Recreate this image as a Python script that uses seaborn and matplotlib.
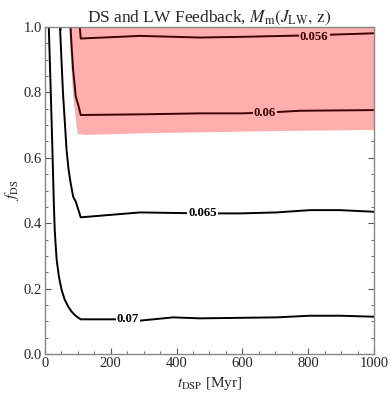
import pandas as pd
import matplotlib
matplotlib.use('Agg')
import matplotlib.pyplot as plt
import seaborn as sns

# contour levels of M_m and their polylines
levels = ['0.056', '0.06', '0.065', '0.07']

t_056 = [106, 109, 289, 471, 593, 818, 1000]
f_056 = [1.0, 0.965, 0.973, 0.968, 0.970, 0.975, 0.981]

t_060 = [78, 82, 86, 94, 102, 109, 289, 471, 593, 669, 775, 1000]
f_060 = [1.0, 0.93, 0.868, 0.787, 0.76, 0.731, 0.733, 0.736, 0.736, 0.738, 0.744, 0.746]

t_065 = [46, 55, 66, 72, 78, 86, 94, 109, 289, 480, 593, 704, 805, 897, 1000]
f_065 = [1.0, 0.80, 0.624, 0.565, 0.525, 0.481, 0.466, 0.418, 0.433, 0.430, 0.430,
         0.433, 0.440, 0.440, 0.435]

t_070 = [12, 18, 23, 27, 30, 33, 36, 43, 51, 60, 71, 81, 91, 100, 109, 252, 289,
         390, 471, 704, 805, 897, 1000]
f_070 = [1.0, 0.80, 0.624, 0.47, 0.38, 0.33, 0.287, 0.235, 0.196, 0.167, 0.145,
         0.130, 0.119, 0.112, 0.106, 0.106, 0.102, 0.112, 0.109, 0.112, 0.117,
         0.117, 0.114]

# shaded region boundary
red_t = [74, 81, 86, 98, 100, 127, 289, 593, 775, 1000, 1000]
red_f = [1.0, 0.868, 0.787, 0.685, 0.673, 0.670, 0.675, 0.680, 0.683, 0.685, 1.0]

# label positions (t, f) for each level
label_t = [818, 669, 480, 252]
label_f = [0.970, 0.738, 0.432, 0.106]

sns.set_style('ticks')
plt.rcParams['font.family'] = ['Liberation Serif', 'DejaVu Serif']
plt.rcParams['mathtext.fontset'] = 'stix'

fig = plt.figure(figsize=(3.9, 3.98), dpi=100)
ax = fig.add_axes([0.115, 0.1106, 0.844, 0.8214])

ax.fill(red_t, red_f, color='#ffaeae', lw=0, zorder=1)

dark_red = '#3c0000'
curves = [(t_056, f_056, dark_red), (t_060, f_060, dark_red),
          (t_065, f_065, 'black'), (t_070, f_070, 'black')]
for (tt, ff, c), lev in zip(curves, levels):
    df = pd.DataFrame({'t': tt, 'f': ff})
    sns.lineplot(data=df, x='t', y='f', sort=False, estimator=None,
                 color=c, lw=1.4, ax=ax, zorder=2)

for i, lev in enumerate(levels):
    bg = '#ffaeae' if i < 2 else 'white'
    c = dark_red if i < 2 else 'black'
    ax.text(label_t[i], label_f[i], lev, ha='center', va='center',
            fontsize=9.2, fontweight='bold', color=c, zorder=3,
            bbox=dict(facecolor=bg, edgecolor='none', pad=0.8))

ax.set_xlim(0, 1000)
ax.set_ylim(0, 1.0)
ax.set_xticks([0, 200, 400, 600, 800, 1000])
ax.set_xticks(range(0, 1001, 50), minor=True)
ax.set_yticks([0.0, 0.2, 0.4, 0.6, 0.8, 1.0])
ax.set_yticks([i * 0.05 for i in range(21)], minor=True)
ax.set_yticklabels(['0.0', '0.2', '0.4', '0.6', '0.8', '1.0'])
ax.tick_params(which='both', direction='in', top=True, right=True,
               color='#555555', labelsize=10.5, pad=2)
ax.tick_params(which='major', length=4, width=0.8)
ax.tick_params(which='minor', length=2, width=0.6)
for s in ax.spines.values():
    s.set_color('#888888')
    s.set_linewidth(1.0)

ax.set_xlabel(r'$t_{\rm DSP}$ [Myr]', fontsize=11, labelpad=4)
ax.set_ylabel(r'$f_{\rm DS}$', fontsize=11, labelpad=2)
ax.set_title(r'DS and LW Feedback, $M_{\rm m}(J_{\rm LW},\,{\rm z})$',
             fontsize=12.5, pad=4)

fig.savefig('out.png', dpi=100)
